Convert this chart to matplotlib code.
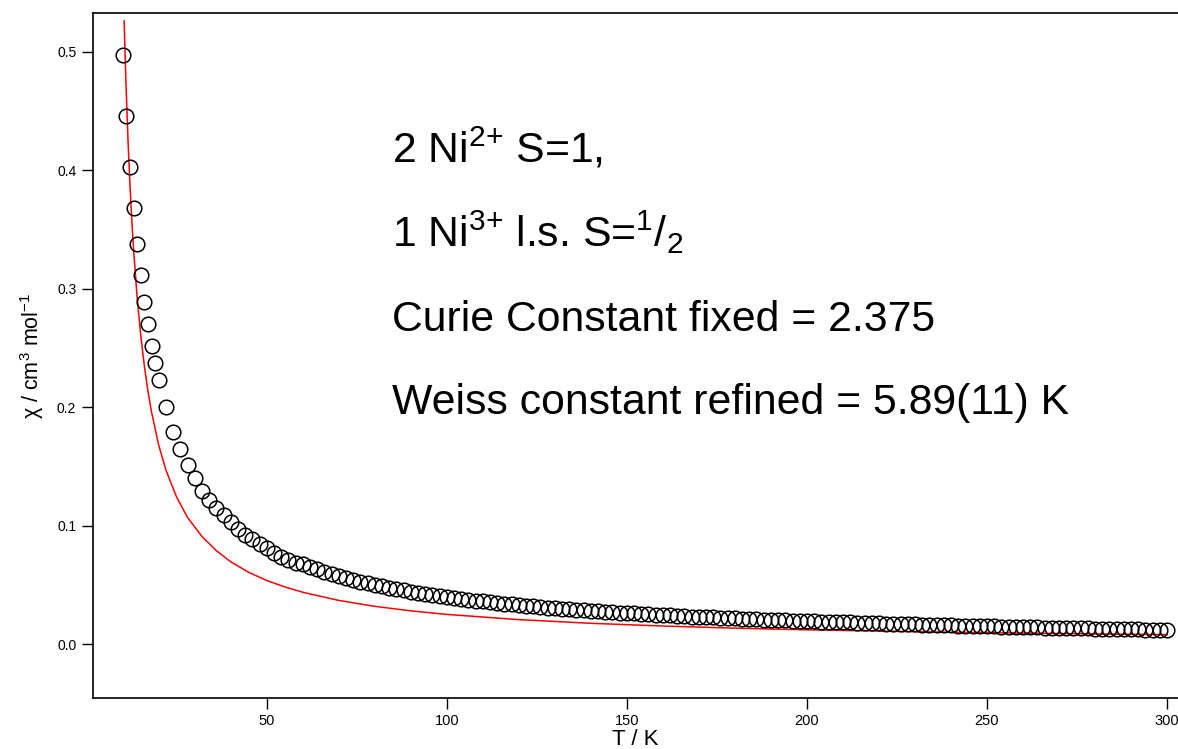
import numpy as np
import matplotlib
matplotlib.use('Agg')
import matplotlib.pyplot as plt

plt.rcParams['font.family'] = ['Liberation Sans', 'DejaVu Sans']
plt.rcParams['mathtext.default'] = 'regular'

# 测量数据：温度 T / K
T_low = [10, 11, 12, 13, 14, 15, 16, 17, 18, 19, 20]
T_high = list(range(22, 301, 2))
T_data = T_low + T_high

# 测量数据：磁化率 chi / cm3 mol-1
chi_data = [
    0.497, 0.446, 0.403, 0.368, 0.338, 0.312, 0.289, 0.270, 0.252, 0.237, 0.223,
    # 22 - 58 K
    0.200, 0.179, 0.165, 0.151, 0.140, 0.129, 0.122, 0.115, 0.109, 0.103,
    0.0975, 0.0925, 0.0886, 0.0846, 0.0810, 0.0770, 0.0736, 0.0711, 0.0686,
    # 60 - 98 K
    0.0676, 0.0653, 0.0632, 0.0612, 0.0593, 0.0576, 0.0559, 0.0543, 0.0529, 0.0515,
    0.0501, 0.0489, 0.0477, 0.0465, 0.0454, 0.0444, 0.0434, 0.0424, 0.0415, 0.0407,
    # 100 - 138 K
    0.0398, 0.0390, 0.0382, 0.0375, 0.0368, 0.0361, 0.0354, 0.0348, 0.0342, 0.0336,
    0.0330, 0.0325, 0.0319, 0.0314, 0.0309, 0.0304, 0.0300, 0.0295, 0.0291, 0.0286,
    # 140 - 178 K
    0.0282, 0.0278, 0.0274, 0.0270, 0.0267, 0.0263, 0.0260, 0.0256, 0.0253, 0.0249,
    0.0246, 0.0243, 0.0240, 0.0237, 0.0234, 0.0232, 0.0229, 0.0226, 0.0224, 0.0221,
    # 180 - 218 K
    0.0219, 0.0216, 0.0214, 0.0211, 0.0209, 0.0207, 0.0205, 0.0203, 0.0200, 0.0198,
    0.0196, 0.0194, 0.0192, 0.0190, 0.0188, 0.0186, 0.0184, 0.0182, 0.0180, 0.0178,
    # 220 - 258 K
    0.0177, 0.0175, 0.0173, 0.0171, 0.0169, 0.0168, 0.0166, 0.0164, 0.0163, 0.0161,
    0.0160, 0.0158, 0.0157, 0.0155, 0.0154, 0.0152, 0.0151, 0.0149, 0.0148, 0.0147,
    # 260 - 300 K
    0.0145, 0.0144, 0.0143, 0.0141, 0.0140, 0.0139, 0.0137, 0.0136, 0.0135, 0.0134,
    0.0133, 0.0131, 0.0130, 0.0129, 0.0128, 0.0127, 0.0126, 0.0124, 0.0123, 0.0122,
    0.0121,
]

# 拟合曲线（红线）
T_fit = [10.4, 10.7, 11, 11.5, 12, 12.5, 13, 14, 15, 16, 17, 18, 20, 22, 25, 28,
         32, 36, 40, 45, 50, 55, 60, 70, 80, 90, 100, 120, 140, 160, 180, 200,
         230, 260, 300]
chi_fit = [0.526, 0.494, 0.465, 0.423, 0.389, 0.359, 0.334, 0.293, 0.261, 0.235,
           0.214, 0.196, 0.168, 0.147, 0.124, 0.107, 0.091, 0.079, 0.0696, 0.0607,
           0.0538, 0.0484, 0.0439, 0.0370, 0.0320, 0.0282, 0.0252, 0.0208, 0.0177,
           0.0154, 0.0136, 0.0122, 0.0106, 0.0094, 0.0081]

# 注释文字
notes = [r'2 Ni$^{2{+}}$ S=1,',
         r'1 Ni$^{3{+}}$ l.s. S=$^{1}$/$_{2}$',
         'Curie Constant fixed = 2.375',
         'Weiss constant refined = 5.89(11) K']

fig = plt.figure(figsize=(11.78, 7.49), dpi=100)
ax = fig.add_axes([93 / 1178, 1 - 698.3 / 749, 1 - 93 / 1178, (698.3 - 12.7) / 749])

ax.plot(T_fit, chi_fit, color='red', lw=1.1, zorder=2)
ax.plot(T_data, chi_data, 'o', ms=10.5, mfc='none', mec='black', mew=1.1, zorder=3)

ax.set_xlim(1.75, 303.05)
ax.set_ylim(-0.0456, 0.533)
ax.set_xticks([50, 100, 150, 200, 250, 300])
ax.set_yticks([0.0, 0.1, 0.2, 0.3, 0.4, 0.5])
ax.set_yticklabels(['0.0', '0.1', '0.2', '0.3', '0.4', '0.5'])
ax.tick_params(axis='y', direction='out', length=8, width=1, labelsize=10, pad=4)
ax.tick_params(axis='x', direction='out', length=8, width=1, labelsize=10.5, pad=3)

ax.spines['right'].set_visible(False)
for s in ['left', 'bottom', 'top']:
    ax.spines[s].set_linewidth(1.2)

ax.set_xlabel('T / K', fontsize=16, labelpad=1)
ax.set_ylabel(r'χ / cm$^{3}$ mol$^{-1}$', fontsize=15.5, labelpad=8)

# 在图中写注释
y_pos = [163, 247, 331, 414]
for txt, yp in zip(notes, y_pos):
    fig.text(392 / 1178, 1 - yp / 749, txt, fontsize=30.8, ha='left', va='baseline')

plt.savefig('out.png', dpi=100)
